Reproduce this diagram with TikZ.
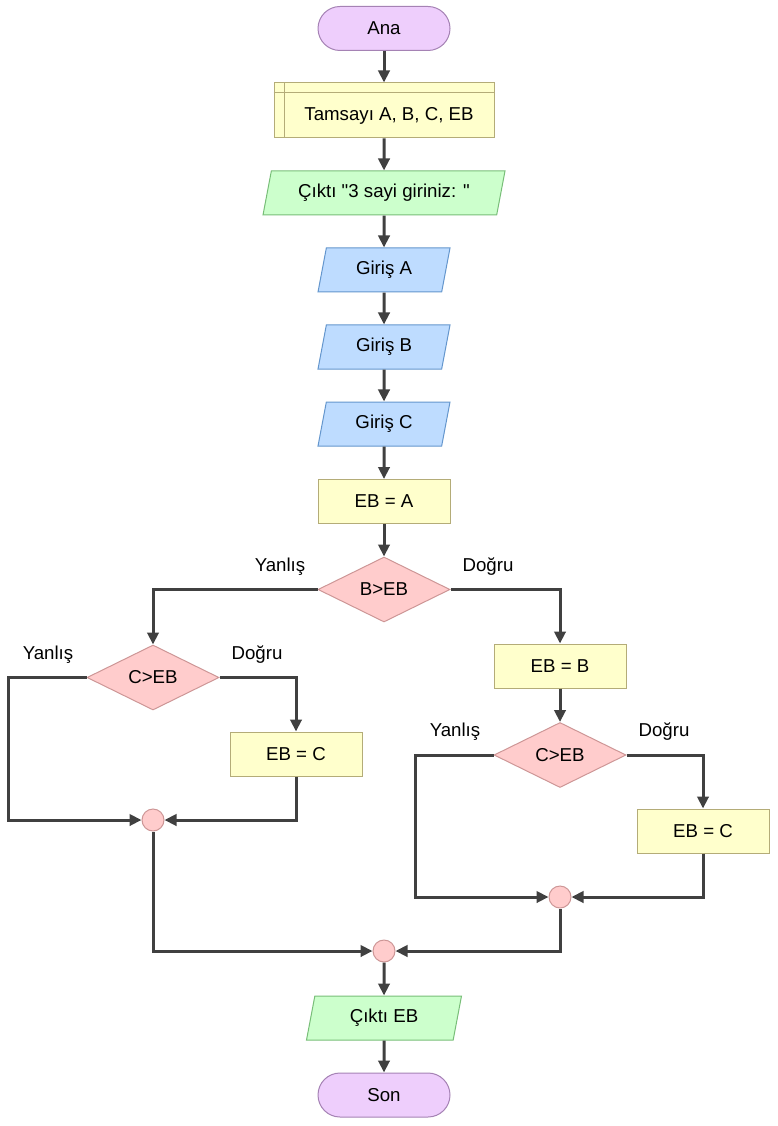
\documentclass[tikz,border=0pt]{standalone}
\usepackage{fontspec}
\setmainfont{Liberation Sans}[Ligatures=TeXOff]
\usetikzlibrary{shapes.geometric,arrows.meta}
\definecolor{termfill}{RGB}{238,206,252}
\definecolor{termdraw}{RGB}{165,130,180}
\definecolor{procfill}{RGB}{255,255,204}
\definecolor{procdraw}{RGB}{180,172,120}
\definecolor{outfill}{RGB}{204,255,204}
\definecolor{outdraw}{RGB}{120,190,120}
\definecolor{infill}{RGB}{190,220,255}
\definecolor{indraw}{RGB}{100,150,205}
\definecolor{decfill}{RGB}{255,204,204}
\definecolor{decdraw}{RGB}{205,150,150}
\definecolor{arrcol}{RGB}{64,64,64}
\tikzset{
  base/.style={inner sep=0pt, line width=0.75pt, font=\fontsize{14pt}{16pt}\selectfont},
  term/.style={base, rectangle, rounded corners=16.5pt, fill=termfill, draw=termdraw, minimum width=99pt, minimum height=33pt},
  proc/.style={base, rectangle, fill=procfill, draw=procdraw, minimum width=99pt, minimum height=33pt},
  decl/.style={base, rectangle, fill=procfill, draw=procdraw, minimum width=165pt, minimum height=41.25pt},
  para/.style={base, trapezium, trapezium left angle=64.5, trapezium right angle=115.5, trapezium stretches body, minimum height=33pt},
  outp/.style={para, fill=outfill, draw=outdraw},
  inp/.style={para, fill=infill, draw=indraw, minimum width=99pt},
  dec/.style={base, diamond, fill=decfill, draw=decdraw, minimum width=99pt, minimum height=48.75pt},
  conn/.style={base, circle, fill=decfill, draw=decdraw, minimum size=16.5pt},
  lab/.style={font=\fontsize{14pt}{16pt}\selectfont, inner sep=0pt},
  arr/.style={draw=arrcol, line width=2.25pt, -{Triangle[length=9pt,width=8.5pt]}},
  ln/.style={draw=arrcol, line width=2.25pt}
}
\begin{document}
\begin{tikzpicture}[x=0.75pt,y=-0.75pt]
\useasboundingbox (0,0) rectangle (777,1126);
\node[term] (ana) at (384,28.5) {Ana};
\node[decl] (dcl) at (384,110.5) {};
\draw[procdraw, line width=0.75pt] ([xshift=8.25pt]dcl.north west) -- ([xshift=8.25pt]dcl.south west);
\draw[procdraw, line width=0.75pt] ([yshift=-7.5pt]dcl.north west) -- ([yshift=-7.5pt]dcl.north east);
\node[lab] (dtxt) at (389,116) {Tamsayı A, B, C, EB};
\node[outp, minimum width=181.5pt] (out1) at (384,193) {Çıktı "3 sayi giriniz: "};
\node[inp] (ina) at (384,270) {Giriş A};
\node[inp] (inb) at (384,347) {Giriş B};
\node[inp] (inc) at (384,424) {Giriş C};
\node[proc] (eba) at (384,501.5) {EB = A};
\node[dec] (d1) at (384,589.5) {B>EB};
\node[dec] (d2) at (153,677.5) {C>EB};
\node[proc] (ebc1) at (296,754) {EB = C};
\node[conn] (c1) at (153,820) {};
\node[proc] (ebb) at (560,666) {EB = B};
\node[dec] (d3) at (560,755) {C>EB};
\node[proc] (ebc2) at (703,831) {EB = C};
\node[conn] (c2) at (560,897) {};
\node[conn] (m) at (384,951) {};
\node[outp, minimum width=116.25pt] (out2) at (384,1018) {Çıktı EB};
\node[term] (son) at (384,1095) {Son};
% labels
\node[lab] (l1) at (280,567) {Yanlış};
\node[lab] (l2) at (488,567) {Doğru};
\node[lab] (l3) at (48,655) {Yanlış};
\node[lab] (l4) at (257,655) {Doğru};
\node[lab] (l5) at (455,732) {Yanlış};
\node[lab] (l6) at (664,732) {Doğru};
% connectors
\draw[arr] (ana) -- (dcl);
\draw[arr] (dcl) -- (out1);
\draw[arr] (out1) -- (ina);
\draw[arr] (ina) -- (inb);
\draw[arr] (inb) -- (inc);
\draw[arr] (inc) -- (eba);
\draw[arr] (eba) -- (d1);
\draw[arr] (d1.west) -| (d2.north);
\draw[arr] (d1.east) -| (ebb.north);
\draw[arr] (d2.west) -- ++(-78,0) |- (c1.west);
\draw[arr] (d2.east) -| (ebc1.north);
\draw[arr] (ebc1.south) |- (c1.east);
\draw[arr] (c1.south) |- (m.west);
\draw[arr] (ebb) -- (d3);
\draw[arr] (d3.west) -- ++(-78,0) |- (c2.west);
\draw[arr] (d3.east) -| (ebc2.north);
\draw[arr] (ebc2.south) |- (c2.east);
\draw[arr] (c2.south) |- (m.east);
\draw[arr] (m) -- (out2);
\draw[arr] (out2) -- (son);
\end{tikzpicture}
\end{document}
